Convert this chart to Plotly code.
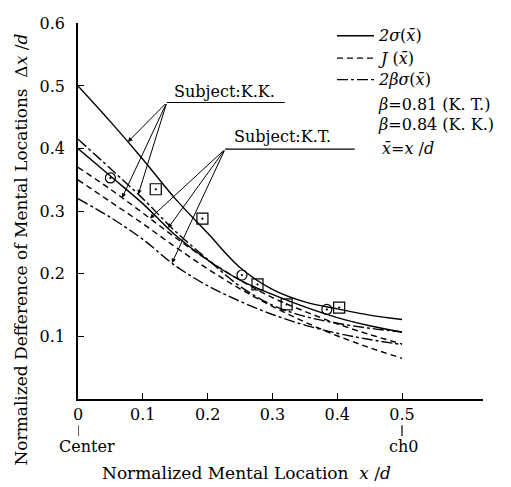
import numpy as np
import plotly.graph_objects as go

# ---- data ----
x_grid = [0.0, 0.05, 0.10, 0.15, 0.20, 0.25, 0.30, 0.35, 0.40, 0.45, 0.50]

kk_2sigma  = [0.500, 0.443, 0.383, 0.320, 0.265, 0.210, 0.175, 0.155, 0.144, 0.134, 0.127]
kk_2bsigma = [0.415, 0.368, 0.320, 0.268, 0.223, 0.180, 0.150, 0.132, 0.121, 0.113, 0.107]
kt_2sigma  = [0.400, 0.356, 0.312, 0.262, 0.222, 0.190, 0.167, 0.147, 0.130, 0.117, 0.107]
kk_J       = [0.370, 0.335, 0.297, 0.258, 0.222, 0.190, 0.162, 0.140, 0.120, 0.103, 0.088]
kt_J       = [0.350, 0.315, 0.280, 0.243, 0.208, 0.176, 0.148, 0.123, 0.101, 0.082, 0.065]
kt_2bsigma = [0.320, 0.290, 0.255, 0.213, 0.181, 0.156, 0.135, 0.118, 0.105, 0.095, 0.087]

kt_obs_x = [0.050, 0.253, 0.384]
kt_obs_y = [0.353, 0.198, 0.143]
kk_obs_x = [0.120, 0.192, 0.277, 0.322, 0.403]
kk_obs_y = [0.335, 0.288, 0.183, 0.151, 0.146]

x_ticks = [0, 0.1, 0.2, 0.3, 0.4, 0.5]
x_tick_labels = ["0", "0.1", "0.2", "0.3", "0.4", "0.5"]
y_ticks = [0.1, 0.2, 0.3, 0.4, 0.5, 0.6]
y_tick_labels = ["0.1", "0.2", "0.3", "0.4", "0.5", "0.6"]

FONT = "DejaVu Serif"
SOLID = "solid"
DASH = "6px,4px"
DASHDOT = "11px,3px,3px,3px"

# page body has an 8px margin: the figure is drawn 8px smaller and offset
OFF = 8
W, H = 511 - OFF, 487 - OFF
L, R, T, B = 78 - OFF, 28, 14 - OFF, 88
pw, ph = W - L - R, H - T - B


def px(xs):
    """screen x pixel -> paper x"""
    return (xs - OFF - L) / pw


def py(ys):
    """screen y pixel -> paper y"""
    return (H - B - (ys - OFF)) / ph


fig = go.Figure()

curves = [
    (kk_2sigma, SOLID), (kk_2bsigma, DASHDOT), (kt_2sigma, SOLID),
    (kk_J, DASH), (kt_J, DASH), (kt_2bsigma, DASHDOT),
]
for ys, dash in curves:
    fig.add_trace(go.Scatter(x=x_grid, y=ys, mode="lines",
                             line=dict(color="black", width=1.4, dash=dash, shape="spline"),
                             showlegend=False, hoverinfo="skip"))

fig.add_trace(go.Scatter(x=kt_obs_x, y=kt_obs_y, mode="markers",
                         marker=dict(symbol="circle-open-dot", size=10, color="black",
                                     line=dict(width=1.2, color="black")),
                         showlegend=False))
fig.add_trace(go.Scatter(x=kk_obs_x, y=kk_obs_y, mode="markers",
                         marker=dict(symbol="square-open-dot", size=11, color="black",
                                     line=dict(width=1.2, color="black")),
                         showlegend=False))


# ---- pointer annotations ----
def on(curve, x):
    return float(np.interp(x, x_grid, curve))


kk_origin = (0.137, 0.4735)
kt_origin = (0.227, 0.399)
pointers = [
    (kk_origin, 0.077, kk_2sigma),
    (kk_origin, 0.068, kk_J),
    (kk_origin, 0.093, kk_2bsigma),
    (kt_origin, 0.111, kk_J),
    (kt_origin, 0.139, kt_2sigma),
    (kt_origin, 0.145, kt_2bsigma),
]
for (ox, oy), tx, curve in pointers:
    fig.add_annotation(x=tx, y=on(curve, tx), ax=ox, ay=oy, axref="x", ayref="y",
                       xref="x", yref="y", text="", showarrow=True,
                       arrowhead=2, arrowsize=0.9, arrowwidth=1, arrowcolor="black")

fig.add_shape(type="line", xref="x", yref="y", x0=0.137, x1=0.319, y0=0.4735, y1=0.4735,
              line=dict(color="black", width=1.2))
fig.add_shape(type="line", xref="x", yref="y", x0=0.227, x1=0.427, y0=0.399, y1=0.399,
              line=dict(color="black", width=1.2))
fig.add_annotation(x=0.145, y=0.491, xref="x", yref="y", text="Subject:K.K.",
                   showarrow=False, xanchor="left", yanchor="middle",
                   font=dict(family=FONT, size=16, color="black"))
fig.add_annotation(x=0.238, y=0.419, xref="x", yref="y", text="Subject:K.T.",
                   showarrow=False, xanchor="left", yanchor="middle",
                   font=dict(family=FONT, size=16, color="black"))

# ---- manual legend ----
legend_rows = [
    (27, SOLID, "<i>2σ</i>(<i>x̄</i>)"),
    (50, DASH, "<i>J</i> (<i>x̄</i>)"),
    (72, DASHDOT, "<i>2βσ</i>(<i>x̄</i>)"),
]
for yy, dash, label in legend_rows:
    fig.add_shape(type="line", xref="paper", yref="paper", x0=px(337), x1=px(374),
                  y0=py(yy), y1=py(yy), line=dict(color="black", width=1.4, dash=dash))
    fig.add_annotation(x=px(376), y=py(yy), xref="paper", yref="paper", text=label,
                       showarrow=False, xanchor="left", yanchor="middle",
                       font=dict(family=FONT, size=16, color="black"))
for yy, xx, label in [(97, 376, "<i>β</i>=0.81 (K. T.)"),
                      (118, 376, "<i>β</i>=0.84 (K. K.)"),
                      (143, 380, "<i>x̄</i>=<i>x</i> /<i>d</i>")]:
    fig.add_annotation(x=px(xx), y=py(yy), xref="paper", yref="paper", text=label,
                       showarrow=False, xanchor="left", yanchor="middle",
                       font=dict(family=FONT, size=16, color="black"))

# ---- marks under the x axis ----
for xv in [0.0, 0.5]:
    fig.add_shape(type="line", xref="x", yref="paper", x0=xv, x1=xv, y0=py(426), y1=py(437),
                  line=dict(color="black", width=1.2))
fig.add_annotation(x=0.014, y=py(448), xref="x", yref="paper", text="Center",
                   showarrow=False, xanchor="center", yanchor="middle",
                   font=dict(family=FONT, size=16, color="black"))
fig.add_annotation(x=0.503, y=py(448), xref="x", yref="paper", text="ch0",
                   showarrow=False, xanchor="center", yanchor="middle",
                   font=dict(family=FONT, size=16, color="black"))

# axis titles
fig.add_annotation(x=px(246), y=py(475), xref="paper", yref="paper",
                   text="Normalized Mental Location  <i>x</i> /<i>d</i>",
                   showarrow=False, xanchor="center", yanchor="middle",
                   font=dict(family=FONT, size=17, color="black"))
fig.add_annotation(x=px(21), y=py(246), xref="paper", yref="paper",
                   text="Normalized Defference of Mental Locations  Δ<i>x</i> /<i>d</i>",
                   textangle=-90, showarrow=False, xanchor="center", yanchor="middle",
                   font=dict(family=FONT, size=17, color="black"))

fig.update_layout(
    width=W, height=H, margin=dict(l=L, r=R, t=T, b=B),
    plot_bgcolor="white", paper_bgcolor="white",
    font=dict(family=FONT, size=16, color="black"),
)
fig.update_xaxes(range=[0, 0.625], tickvals=x_ticks, ticktext=x_tick_labels,
                 showline=True, linecolor="black", linewidth=1.5,
                 ticks="inside", ticklen=6, tickwidth=1.2, tickcolor="black",
                 showgrid=False, zeroline=False, ticklabeloverflow="allow",
                 tickfont=dict(family=FONT, size=16, color="black"))
fig.update_yaxes(range=[0, 0.6005], tickvals=y_ticks, ticktext=y_tick_labels,
                 showline=True, linecolor="black", linewidth=1.5,
                 ticks="inside", ticklen=6, tickwidth=1.2, tickcolor="black",
                 showgrid=False, zeroline=False, ticklabelstandoff=8,
                 ticklabeloverflow="allow",
                 tickfont=dict(family=FONT, size=16, color="black"))

fig.write_html("out.html")
